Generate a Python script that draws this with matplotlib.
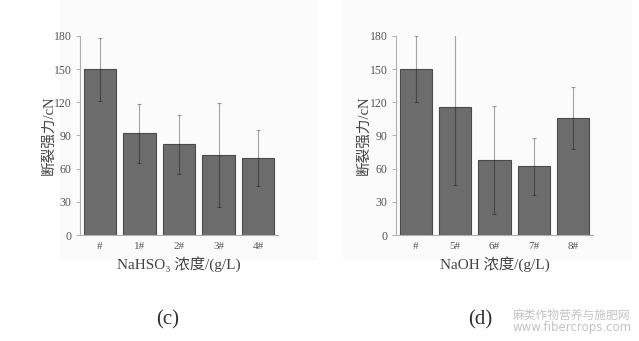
import matplotlib
matplotlib.use("Agg")
import matplotlib.pyplot as plt
from matplotlib.patches import Rectangle

plt.rcParams['font.family'] = ['Liberation Serif', 'Noto Sans CJK SC', 'DejaVu Sans']

# Breaking strength (cN) with standard deviations
labels_c = ["#", "1#", "2#", "3#", "4#"]
strength_c = [150, 92, 82, 72.5, 69.5]
err_c = [28.5, 26.5, 26.5, 47, 25.5]

labels_d = ["#", "5#", "6#", "7#", "8#"]
strength_d = [150, 116, 68, 62, 106]
err_d = [30, 71, 49, 26, 28]

yticks = [0, 30, 60, 90, 120, 150, 180]

fig = plt.figure(figsize=(6.39, 3.41), dpi=100)
fig.patch.set_facecolor('white')

# faint backing panels behind each plot
for x0, w in [(60 / 639, 258 / 639), (343 / 639, 289 / 639)]:
    fig.patches.append(Rectangle((x0, (341 - 260) / 341), w, 260 / 341,
                                 transform=fig.transFigure, facecolor='#fbfbfb',
                                 edgecolor='none', zorder=-5))

def draw_panel(ax, labels, vals, errs, xlabel, ylabel_x):
    ax.set_facecolor('none')
    x = list(range(len(labels)))
    ax.bar(x, vals, width=0.82, color='#6c6c6c', edgecolor='#4a4a4a', linewidth=0.8, zorder=2)
    ax.errorbar(x, vals, yerr=errs, fmt='none', ecolor='black', alpha=0.35,
                elinewidth=0.8, capsize=1.2, capthick=0.8, zorder=3, clip_on=True)
    ax.set_xlim(-0.5, 4.5)
    ax.set_ylim(0, 180)
    ax.set_yticks(yticks)
    ax.set_xticks(x)
    ax.set_xticklabels(labels)
    for s in ('top', 'right'):
        ax.spines[s].set_visible(False)
    for s in ('left', 'bottom'):
        ax.spines[s].set_color('#b0b0b0')
        ax.spines[s].set_linewidth(0.8)
    ax.tick_params(axis='y', colors='#b0b0b0', labelcolor='#555555', labelsize=8.5,
                   length=3, width=0.7, pad=3)
    ax.tick_params(axis='x', colors='#666666', labelcolor='#555555', labelsize=8,
                   length=2, width=0.7, direction='in', pad=5)
    ax.set_ylabel('断裂强力/cN', fontsize=10.5, color='#444444')
    ax.yaxis.set_label_coords(ylabel_x, 0.5)
    ax.set_xlabel(xlabel, fontsize=11, color='#444444', labelpad=4)

ax1 = fig.add_axes([80 / 639, 106 / 341, 198 / 639, 199 / 341])
draw_panel(ax1, labels_c, strength_c, err_c, 'NaHSO₃ 浓度/(g/L)', -0.125)

ax2 = fig.add_axes([396 / 639, 106 / 341, 197 / 639, 199 / 341])
draw_panel(ax2, labels_d, strength_d, err_d, 'NaOH 浓度/(g/L)', -0.13)

fig.text(168 / 639, 1 - 320 / 341, '(c)', ha='center', va='center', fontsize=15, color='#333333')
fig.text(480 / 639, 1 - 320 / 341, '(d)', ha='center', va='center', fontsize=15, color='#333333')

fig.text(572 / 639, 1 - 315 / 341, '麻类作物营养与施肥网', ha='center', va='center',
         fontsize=8.5, color='#c4c4c4', family=['Noto Sans CJK SC'])
fig.text(572 / 639, 1 - 328 / 341, 'www.fibercrops.com', ha='center', va='center',
         fontsize=8.5, color='#c4c4c4', family=['DejaVu Sans'])

fig.savefig('out.png', dpi=100, facecolor='white')
